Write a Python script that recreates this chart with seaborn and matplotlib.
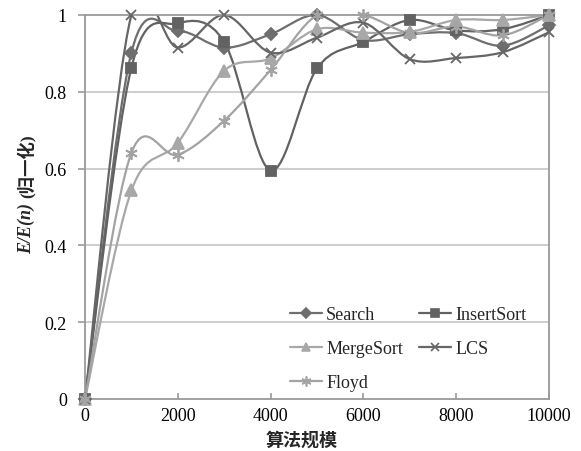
import numpy as np
import pandas as pd
import matplotlib
matplotlib.use("Agg")
import matplotlib.pyplot as plt
import seaborn as sns
from matplotlib.path import Path
from matplotlib.patches import PathPatch
from matplotlib.lines import Line2D

# ---- data ----
sizes = [0, 1000, 2000, 3000, 4000, 5000, 6000, 7000, 8000, 9000, 10000]
search = [0, 0.902, 0.958, 0.915, 0.950, 1.000, 0.935, 0.950, 0.953, 0.920, 0.973]
insertsort = [0, 0.863, 0.978, 0.930, 0.595, 0.861, 0.930, 0.987, 0.960, 0.963, 1.000]
mergesort = [0, 0.543, 0.667, 0.855, 0.887, 0.963, 0.954, 0.956, 0.987, 0.987, 1.000]
lcs = [0, 1.000, 0.915, 1.000, 0.902, 0.941, 0.980, 0.885, 0.888, 0.903, 0.955]
floyd = [0, 0.641, 0.636, 0.725, 0.857, 1.000, 1.000, 0.953, 0.970, 0.947, 1.000]
x_ticks = [0, 2000, 4000, 6000, 8000, 10000]
y_ticks = [0, 0.2, 0.4, 0.6, 0.8, 1]
y_ticklabels = ["0", "0.2", "0.4", "0.6", "0.8", "1"]

series = [
    ("Search", search, "#6e6e6e", "D", 6.0),
    ("InsertSort", insertsort, "#626262", "s", 7.5),
    ("MergeSort", mergesort, "#a8a8a8", "^", 8.0),
    ("LCS", lcs, "#666666", "x", 7.5),
    ("Floyd", floyd, "#a3a3a3", (6, 2, 0), 9.0),
]

sns.set_theme(style="white")
plt.rcParams["font.family"] = ["Liberation Serif", "Noto Sans CJK SC"]

fig = plt.figure(figsize=(5.81, 4.52), dpi=100)
W, H = 581, 452
ax = fig.add_axes([85 / W, (H - 400) / H, (549 - 85) / W, (400 - 16) / H])

ax.set_xlim(0, 10000)
ax.set_ylim(0, 1)

for yv in y_ticks[1:-1]:
    ax.axhline(yv, color="#c6c6c6", lw=1.2, zorder=0)


def smooth_path(xs, ys):
    p = np.column_stack([xs, ys]).astype(float)
    n = len(p)
    verts = [p[0]]
    codes = [Path.MOVETO]
    for i in range(n - 1):
        p0 = p[i - 1] if i > 0 else p[i]
        p1 = p[i]
        p2 = p[i + 1]
        p3 = p[i + 2] if i + 2 < n else p[i + 1]
        c1 = p1 + (p2 - p0) / 6.0
        c2 = p2 - (p3 - p1) / 6.0
        verts += [c1, c2, p2]
        codes += [Path.CURVE4] * 3
    return Path(verts, codes)


handles = {}
for name, vals, col, mk, ms in series:
    patch = PathPatch(smooth_path(sizes, vals), facecolor="none", edgecolor=col,
                      lw=1.6, zorder=2)
    ax.add_patch(patch)
    df = pd.DataFrame({"size": sizes, "val": vals})
    sns.lineplot(data=df, x="size", y="val", ax=ax, color=col, marker=mk,
                 markersize=ms, linestyle="none", markeredgecolor=col,
                 markeredgewidth=1.3, clip_on=False, zorder=3)
    handles[name] = Line2D([0], [0], color=col, lw=1.6, marker=mk,
                           markersize=ms * 0.8, markeredgecolor=col,
                           markeredgewidth=1.2)

order = ["Search", "MergeSort", "Floyd", "InsertSort", "LCS"]
leg = ax.legend([handles[k] for k in order], order, ncol=2, frameon=False,
                loc="upper left", bbox_to_anchor=(281 / W, (H - 298) / H),
                bbox_transform=fig.transFigure, fontsize=13,
                handlelength=1.75, handletextpad=0.25, columnspacing=0.9,
                labelspacing=0.95, borderpad=0)

for s in ["left", "right", "top", "bottom"]:
    ax.spines[s].set_visible(True)
    ax.spines[s].set_color("#9a9a9a")
    ax.spines[s].set_linewidth(1.3)

ax.set_xticks(x_ticks)
ax.set_xticklabels([str(v) for v in x_ticks])
ax.set_yticks(y_ticks)
ax.set_yticklabels(y_ticklabels)
ax.tick_params(axis="x", direction="in", length=4, width=1.2, color="#9a9a9a",
               labelsize=13, pad=6, bottom=True, labelcolor="black")
ax.tick_params(axis="y", direction="out", length=5, width=1.2, color="#9a9a9a",
               labelsize=13, pad=8, left=True, labelcolor="black")
ax.set_xlabel("")
ax.set_ylabel("")

fig.text(302 / W, (H - 440) / H, "算法规模", ha="center", va="center",
         fontsize=13, fontweight="bold", family=["Noto Sans CJK SC"])
t1 = fig.text(26 / W, (H - 254) / H, "E/E(n)", rotation=90, ha="center",
              va="bottom", fontsize=13, fontweight="bold", style="italic",
              family=["Liberation Serif"])
fig.canvas.draw()
bb = t1.get_window_extent(fig.canvas.get_renderer())
fig.text(26 / W, (bb.y1 + 5) / H, "(归一化)", rotation=90, ha="center",
         va="bottom", fontsize=12.5, fontweight="bold",
         family=["Liberation Serif", "Noto Sans CJK SC"])

fig.savefig("out.png", dpi=100)
